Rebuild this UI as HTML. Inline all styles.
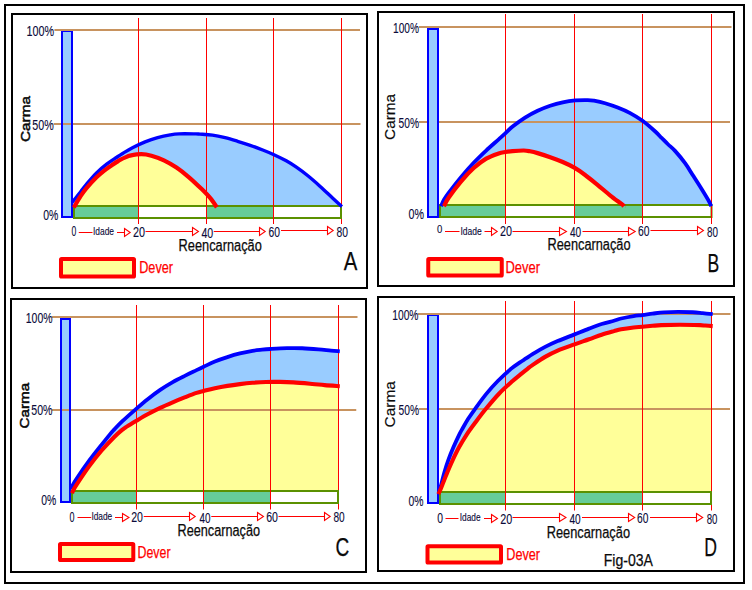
<!DOCTYPE html>
<html><head><meta charset="utf-8"><title>Fig-03A</title>
<style>
html,body{margin:0;padding:0;background:#fff;}
body{width:752px;height:590px;overflow:hidden;font-family:"Liberation Sans",sans-serif;}
svg{display:block;}
</style></head><body>
<svg width="752" height="590" viewBox="0 0 752 590" font-family="Liberation Sans, sans-serif">
<rect x="0" y="0" width="752" height="590" fill="#fff"/>
<rect x="5" y="5" width="739" height="578" fill="#fff" stroke="#000" stroke-width="2"/>
<rect x="12" y="14" width="355" height="274" fill="#fff" stroke="#000" stroke-width="2"/>
<path d="M72.1,202.3 C72.74,201.54 74.46,199.61 75.94,197.76 C77.42,195.91 79.28,193.41 81.0,191.2 C82.72,188.99 83.64,187.56 86.23,184.52 C88.82,181.48 93.14,176.31 96.55,172.93 C99.96,169.55 103.30,166.83 106.68,164.21 C110.06,161.59 114.12,159.05 116.84,157.22 C119.56,155.39 120.41,154.80 123.02,153.23 C125.63,151.66 128.81,149.66 132.49,147.77 C136.17,145.89 140.93,143.60 145.11,141.92 C149.29,140.24 153.41,138.86 157.59,137.68 C161.77,136.50 166.64,135.48 170.21,134.85 C173.78,134.22 174.81,134.03 178.99,133.87 C183.17,133.71 191.80,133.85 195.3,133.89 C198.80,133.93 197.14,133.90 200.01,134.1 C202.88,134.30 208.31,134.50 212.49,135.1 C216.67,135.70 220.91,136.65 225.1,137.68 C229.29,138.71 233.43,139.99 237.61,141.26 C241.79,142.53 246.01,143.86 250.19,145.32 C254.37,146.78 258.83,148.47 262.7,149.99 C266.57,151.51 269.50,152.66 273.42,154.46 C277.35,156.26 282.48,158.71 286.25,160.79 C290.02,162.87 292.47,164.50 296.02,166.96 C299.57,169.42 303.54,172.30 307.57,175.54 C311.60,178.78 315.98,182.63 320.18,186.41 C324.38,190.19 329.14,194.84 332.78,198.21 C336.42,201.58 340.46,205.20 342.0,206.6 L342.0,206 L72.1,206 Z" fill="#99ccff"/>
<path d="M73.8,207.5 C74.19,206.83 75.10,205.21 76.14,203.46 C77.18,201.71 78.35,199.52 80.04,197.02 C81.73,194.52 83.52,191.76 86.27,188.46 C89.02,185.16 93.12,180.52 96.52,177.24 C99.92,173.96 104.13,170.78 106.67,168.79 C109.21,166.79 110.08,166.42 111.78,165.27 C113.48,164.12 115.50,162.77 116.88,161.87 C118.26,160.97 118.52,160.67 120.04,159.88 C121.56,159.09 124.31,157.82 125.98,157.11 C127.65,156.40 127.50,156.10 130.06,155.62 C132.62,155.14 137.78,154.19 141.34,154.21 C144.90,154.23 147.64,154.70 151.4,155.72 C155.16,156.74 159.72,158.35 163.9,160.32 C168.08,162.29 172.29,164.71 176.47,167.54 C180.65,170.37 184.80,173.69 189.0,177.28 C193.20,180.88 198.17,185.67 201.69,189.11 C205.21,192.56 207.60,194.94 210.12,197.95 C212.64,200.96 215.69,205.66 216.8,207.2 L216.8,206 L73.8,206 Z" fill="#ffff99"/>
<rect x="62" y="31" width="10" height="186" fill="#99ccff"/>
<line x1="54.4" y1="30" x2="360" y2="30" stroke="#c8935f" stroke-width="2"/>
<line x1="53.7" y1="124" x2="360.5" y2="124" stroke="#c8935f" stroke-width="2"/>
<rect x="62" y="31" width="10" height="186" fill="none" stroke="#0000ff" stroke-width="2"/>
<line x1="61" y1="30" x2="73" y2="30" stroke="#c8935f" stroke-width="2"/>
<rect x="74" y="206" width="267" height="12" fill="#fff"/>
<rect x="74" y="206" width="64.5" height="12" fill="#66cc99"/>
<rect x="206.5" y="206" width="67.0" height="12" fill="#66cc99"/>
<rect x="74" y="206" width="267" height="12" fill="none" stroke="#5b9100" stroke-width="2"/>
<line x1="138.5" y1="18" x2="138.5" y2="224" stroke="#ff0000" stroke-width="1"/>
<line x1="206.5" y1="18" x2="206.5" y2="224" stroke="#ff0000" stroke-width="1"/>
<line x1="273.5" y1="18" x2="273.5" y2="224" stroke="#ff0000" stroke-width="1"/>
<line x1="341.5" y1="18" x2="341.5" y2="224" stroke="#ff0000" stroke-width="1"/>
<line x1="341" y1="205" x2="341" y2="219" stroke="#5b9100" stroke-width="2"/>
<path d="M72.1,202.3 C72.74,201.54 74.46,199.61 75.94,197.76 C77.42,195.91 79.28,193.41 81.0,191.2 C82.72,188.99 83.64,187.56 86.23,184.52 C88.82,181.48 93.14,176.31 96.55,172.93 C99.96,169.55 103.30,166.83 106.68,164.21 C110.06,161.59 114.12,159.05 116.84,157.22 C119.56,155.39 120.41,154.80 123.02,153.23 C125.63,151.66 128.81,149.66 132.49,147.77 C136.17,145.89 140.93,143.60 145.11,141.92 C149.29,140.24 153.41,138.86 157.59,137.68 C161.77,136.50 166.64,135.48 170.21,134.85 C173.78,134.22 174.81,134.03 178.99,133.87 C183.17,133.71 191.80,133.85 195.3,133.89 C198.80,133.93 197.14,133.90 200.01,134.1 C202.88,134.30 208.31,134.50 212.49,135.1 C216.67,135.70 220.91,136.65 225.1,137.68 C229.29,138.71 233.43,139.99 237.61,141.26 C241.79,142.53 246.01,143.86 250.19,145.32 C254.37,146.78 258.83,148.47 262.7,149.99 C266.57,151.51 269.50,152.66 273.42,154.46 C277.35,156.26 282.48,158.71 286.25,160.79 C290.02,162.87 292.47,164.50 296.02,166.96 C299.57,169.42 303.54,172.30 307.57,175.54 C311.60,178.78 315.98,182.63 320.18,186.41 C324.38,190.19 329.14,194.84 332.78,198.21 C336.42,201.58 340.46,205.20 342.0,206.6" fill="none" stroke="#0000ff" stroke-width="3.4" stroke-linecap="butt" stroke-linejoin="round"/>
<path d="M73.8,207.5 C74.19,206.83 75.10,205.21 76.14,203.46 C77.18,201.71 78.35,199.52 80.04,197.02 C81.73,194.52 83.52,191.76 86.27,188.46 C89.02,185.16 93.12,180.52 96.52,177.24 C99.92,173.96 104.13,170.78 106.67,168.79 C109.21,166.79 110.08,166.42 111.78,165.27 C113.48,164.12 115.50,162.77 116.88,161.87 C118.26,160.97 118.52,160.67 120.04,159.88 C121.56,159.09 124.31,157.82 125.98,157.11 C127.65,156.40 127.50,156.10 130.06,155.62 C132.62,155.14 137.78,154.19 141.34,154.21 C144.90,154.23 147.64,154.70 151.4,155.72 C155.16,156.74 159.72,158.35 163.9,160.32 C168.08,162.29 172.29,164.71 176.47,167.54 C180.65,170.37 184.80,173.69 189.0,177.28 C193.20,180.88 198.17,185.67 201.69,189.11 C205.21,192.56 207.60,194.94 210.12,197.95 C212.64,200.96 215.69,205.66 216.8,207.2" fill="none" stroke="#ff0000" stroke-width="4.2" stroke-linecap="butt" stroke-linejoin="round"/>
<text x="26.6" y="36" font-size="14" fill="#0b0b3a" stroke="#0b0b3a" stroke-width="0.12" font-weight="normal" textLength="27.6" lengthAdjust="spacingAndGlyphs">100%</text>
<text x="32.2" y="130" font-size="14" fill="#0b0b3a" stroke="#0b0b3a" stroke-width="0.12" font-weight="normal" textLength="21.5" lengthAdjust="spacingAndGlyphs">50%</text>
<text x="43.2" y="220" font-size="14" fill="#0b0b3a" stroke="#0b0b3a" stroke-width="0.12" font-weight="normal" textLength="15.1" lengthAdjust="spacingAndGlyphs">0%</text>
<text x="71.5" y="236" font-size="14.5" fill="#0b0b3a" stroke="#0b0b3a" stroke-width="0.12" font-weight="normal" textLength="4.8" lengthAdjust="spacingAndGlyphs">0</text>
<line x1="78.75" y1="232.5" x2="92.5" y2="232.5" stroke="#ff0000" stroke-width="1"/>
<text x="93" y="235.3" font-size="10.8" fill="#0b0b3a" stroke="#0b0b3a" stroke-width="0.12" font-weight="normal" textLength="21" lengthAdjust="spacingAndGlyphs">Idade</text>
<line x1="117" y1="232.5" x2="124.5" y2="232.5" stroke="#ff0000" stroke-width="1"/>
<path d="M124.5,228.5 L130.2,232.5 L124.5,236.5 Z" fill="#fff" stroke="#ff0000" stroke-width="1.1" stroke-linejoin="miter"/>
<text x="133" y="237" font-size="14" fill="#0b0b3a" stroke="#0b0b3a" stroke-width="0.12" font-weight="normal" textLength="12" lengthAdjust="spacingAndGlyphs">20</text>
<line x1="145.5" y1="231.5" x2="192" y2="231.5" stroke="#ff0000" stroke-width="1"/>
<path d="M192.5,227.5 L198.45,231.5 L192.5,235.5 Z" fill="#fff" stroke="#ff0000" stroke-width="1.1" stroke-linejoin="miter"/>
<text x="201.4" y="237.6" font-size="14.5" fill="#0b0b3a" stroke="#0b0b3a" stroke-width="0.12" font-weight="normal" textLength="11.8" lengthAdjust="spacingAndGlyphs">40</text>
<line x1="213.75" y1="231.5" x2="259.25" y2="231.5" stroke="#ff0000" stroke-width="1"/>
<path d="M259.5,227.5 L265.2,231.5 L259.5,235.5 Z" fill="#fff" stroke="#ff0000" stroke-width="1.1" stroke-linejoin="miter"/>
<text x="268.5" y="236.75" font-size="14" fill="#0b0b3a" stroke="#0b0b3a" stroke-width="0.12" font-weight="normal" textLength="11.5" lengthAdjust="spacingAndGlyphs">60</text>
<line x1="281" y1="230.5" x2="327.5" y2="230.5" stroke="#ff0000" stroke-width="1"/>
<path d="M327.5,226.5 L333.2,230.5 L327.5,234.5 Z" fill="#fff" stroke="#ff0000" stroke-width="1.1" stroke-linejoin="miter"/>
<text x="336.5" y="237" font-size="14" fill="#0b0b3a" stroke="#0b0b3a" stroke-width="0.12" font-weight="normal" textLength="11.5" lengthAdjust="spacingAndGlyphs">80</text>
<text x="178.6" y="250.6" font-size="16" fill="#0a0a0a" stroke="#0a0a0a" stroke-width="0.25" font-weight="normal" textLength="83.15" lengthAdjust="spacingAndGlyphs">Reencarnação</text>
<rect x="61" y="259" width="73" height="17.5" rx="0.6" fill="#ffff99" stroke="#ff0000" stroke-width="4"/>
<text x="139.2" y="273" font-size="16" fill="#ff0000" stroke="#ff0000" stroke-width="0.25" font-weight="normal" textLength="33.8" lengthAdjust="spacingAndGlyphs">Dever</text>
<text x="343.7" y="270" font-size="26.5" fill="#0a0a0a" stroke="#0a0a0a" stroke-width="0.25" font-weight="normal" textLength="13.6" lengthAdjust="spacingAndGlyphs">A</text>
<text transform="translate(30.2,142) rotate(-90)" x="0" y="0" font-size="13.5" fill="#0a0a0a" stroke="#0a0a0a" stroke-width="0.5" font-weight="normal" textLength="46" lengthAdjust="spacingAndGlyphs">Carma</text>
<rect x="378" y="12" width="356" height="274" fill="#fff" stroke="#000" stroke-width="2"/>
<path d="M441.0,206.2 C441.52,205.09 442.85,201.78 444.12,199.56 C445.39,197.34 445.81,196.63 448.63,192.89 C451.45,189.15 456.84,182.14 461.02,177.12 C465.20,172.10 469.50,167.21 473.69,162.78 C477.88,158.35 481.96,154.45 486.13,150.54 C490.30,146.63 495.51,142.16 498.7,139.3 C501.89,136.44 502.97,135.49 505.29,133.37 C507.61,131.25 509.31,129.22 512.6,126.6 C515.89,123.97 520.89,120.26 525.06,117.62 C529.23,114.98 533.43,112.74 537.62,110.76 C541.81,108.78 546.00,107.17 550.18,105.76 C554.36,104.35 558.53,103.21 562.71,102.32 C566.89,101.42 571.11,100.77 575.29,100.39 C579.47,100.01 584.67,100.00 587.79,100.06 C590.91,100.12 591.12,100.18 594.0,100.72 C596.88,101.26 601.14,102.14 605.08,103.28 C609.02,104.42 613.48,105.93 617.66,107.57 C621.84,109.21 626.01,110.91 630.15,113.12 C634.29,115.33 638.33,117.78 642.52,120.84 C646.71,123.91 652.08,128.66 655.27,131.51 C658.46,134.36 659.53,135.84 661.64,137.96 C663.75,140.08 665.72,142.10 667.95,144.25 C670.19,146.40 672.20,147.73 675.05,150.88 C677.90,154.03 682.07,159.07 685.07,163.17 C688.07,167.27 690.37,171.32 693.05,175.5 C695.73,179.68 698.54,184.03 701.15,188.24 C703.75,192.45 707.00,197.77 708.68,200.76 C710.36,203.75 710.78,205.29 711.2,206.2 L711.2,205 L441.0,205 Z" fill="#99ccff"/>
<path d="M444.0,206.2 C444.79,204.76 445.92,201.65 448.74,197.54 C451.56,193.43 456.75,186.44 460.91,181.52 C465.07,176.60 469.50,171.82 473.72,168.01 C477.94,164.20 482.07,161.08 486.22,158.65 C490.38,156.22 495.45,154.54 498.65,153.43 C501.84,152.32 503.08,152.40 505.39,152.01 C507.70,151.62 509.43,151.34 512.5,151.09 C515.57,150.84 520.88,150.49 523.8,150.52 C526.72,150.56 527.70,150.86 530.0,151.3 C532.30,151.74 534.22,152.16 537.59,153.14 C540.96,154.12 546.02,155.71 550.21,157.19 C554.40,158.67 558.72,160.28 562.74,162.03 C566.76,163.78 570.58,165.51 574.31,167.66 C578.04,169.81 581.26,172.08 585.13,174.94 C589.00,177.80 593.30,181.39 597.5,184.82 C601.70,188.25 606.18,192.21 610.34,195.52 C614.50,198.84 620.24,202.90 622.48,204.71 C624.72,206.52 623.58,206.12 623.8,206.4 L623.8,205 L444.0,205 Z" fill="#ffff99"/>
<rect x="428" y="29" width="10" height="188" fill="#99ccff"/>
<line x1="419" y1="27" x2="731.5" y2="27" stroke="#c8935f" stroke-width="2"/>
<line x1="419" y1="122" x2="730" y2="122" stroke="#c8935f" stroke-width="2"/>
<rect x="428" y="29" width="10" height="188" fill="#99ccff"/>
<rect x="428" y="29" width="10" height="188" fill="none" stroke="#0000ff" stroke-width="2"/>
<line x1="427" y1="27" x2="439" y2="27" stroke="#c8935f" stroke-width="2"/>
<rect x="440" y="205" width="271.5" height="12" fill="#fff"/>
<rect x="440" y="205" width="65.5" height="12" fill="#66cc99"/>
<rect x="574.5" y="205" width="68.0" height="12" fill="#66cc99"/>
<rect x="440" y="205" width="271.5" height="12" fill="none" stroke="#5b9100" stroke-width="2"/>
<line x1="505.5" y1="14" x2="505.5" y2="224" stroke="#ff0000" stroke-width="1"/>
<line x1="574.5" y1="14" x2="574.5" y2="224" stroke="#ff0000" stroke-width="1"/>
<line x1="642.5" y1="14" x2="642.5" y2="224" stroke="#ff0000" stroke-width="1"/>
<line x1="711.5" y1="14" x2="711.5" y2="224" stroke="#ff0000" stroke-width="1"/>
<path d="M441.0,206.2 C441.52,205.09 442.85,201.78 444.12,199.56 C445.39,197.34 445.81,196.63 448.63,192.89 C451.45,189.15 456.84,182.14 461.02,177.12 C465.20,172.10 469.50,167.21 473.69,162.78 C477.88,158.35 481.96,154.45 486.13,150.54 C490.30,146.63 495.51,142.16 498.7,139.3 C501.89,136.44 502.97,135.49 505.29,133.37 C507.61,131.25 509.31,129.22 512.6,126.6 C515.89,123.97 520.89,120.26 525.06,117.62 C529.23,114.98 533.43,112.74 537.62,110.76 C541.81,108.78 546.00,107.17 550.18,105.76 C554.36,104.35 558.53,103.21 562.71,102.32 C566.89,101.42 571.11,100.77 575.29,100.39 C579.47,100.01 584.67,100.00 587.79,100.06 C590.91,100.12 591.12,100.18 594.0,100.72 C596.88,101.26 601.14,102.14 605.08,103.28 C609.02,104.42 613.48,105.93 617.66,107.57 C621.84,109.21 626.01,110.91 630.15,113.12 C634.29,115.33 638.33,117.78 642.52,120.84 C646.71,123.91 652.08,128.66 655.27,131.51 C658.46,134.36 659.53,135.84 661.64,137.96 C663.75,140.08 665.72,142.10 667.95,144.25 C670.19,146.40 672.20,147.73 675.05,150.88 C677.90,154.03 682.07,159.07 685.07,163.17 C688.07,167.27 690.37,171.32 693.05,175.5 C695.73,179.68 698.54,184.03 701.15,188.24 C703.75,192.45 707.00,197.77 708.68,200.76 C710.36,203.75 710.78,205.29 711.2,206.2" fill="none" stroke="#0000ff" stroke-width="3.8" stroke-linecap="butt" stroke-linejoin="round"/>
<path d="M444.0,206.2 C444.79,204.76 445.92,201.65 448.74,197.54 C451.56,193.43 456.75,186.44 460.91,181.52 C465.07,176.60 469.50,171.82 473.72,168.01 C477.94,164.20 482.07,161.08 486.22,158.65 C490.38,156.22 495.45,154.54 498.65,153.43 C501.84,152.32 503.08,152.40 505.39,152.01 C507.70,151.62 509.43,151.34 512.5,151.09 C515.57,150.84 520.88,150.49 523.8,150.52 C526.72,150.56 527.70,150.86 530.0,151.3 C532.30,151.74 534.22,152.16 537.59,153.14 C540.96,154.12 546.02,155.71 550.21,157.19 C554.40,158.67 558.72,160.28 562.74,162.03 C566.76,163.78 570.58,165.51 574.31,167.66 C578.04,169.81 581.26,172.08 585.13,174.94 C589.00,177.80 593.30,181.39 597.5,184.82 C601.70,188.25 606.18,192.21 610.34,195.52 C614.50,198.84 620.24,202.90 622.48,204.71 C624.72,206.52 623.58,206.12 623.8,206.4" fill="none" stroke="#ff0000" stroke-width="4.2" stroke-linecap="butt" stroke-linejoin="round"/>
<text x="393" y="33" font-size="14" fill="#0b0b3a" stroke="#0b0b3a" stroke-width="0.12" font-weight="normal" textLength="26" lengthAdjust="spacingAndGlyphs">100%</text>
<text x="398.5" y="128" font-size="14" fill="#0b0b3a" stroke="#0b0b3a" stroke-width="0.12" font-weight="normal" textLength="20.5" lengthAdjust="spacingAndGlyphs">50%</text>
<text x="408.5" y="219" font-size="14" fill="#0b0b3a" stroke="#0b0b3a" stroke-width="0.12" font-weight="normal" textLength="15.5" lengthAdjust="spacingAndGlyphs">0%</text>
<text x="437" y="233.2" font-size="11.5" fill="#0b0b3a" stroke="#0b0b3a" stroke-width="0.12" font-weight="normal" textLength="5.3" lengthAdjust="spacingAndGlyphs">0</text>
<line x1="445" y1="231.5" x2="459.5" y2="231.5" stroke="#ff0000" stroke-width="1"/>
<text x="460.5" y="235" font-size="10" fill="#0b0b3a" stroke="#0b0b3a" stroke-width="0.12" font-weight="normal" textLength="21.25" lengthAdjust="spacingAndGlyphs">Idade</text>
<line x1="484.5" y1="231.5" x2="491.25" y2="231.5" stroke="#ff0000" stroke-width="1"/>
<path d="M491.5,227.5 L497.2,231.5 L491.5,235.5 Z" fill="#fff" stroke="#ff0000" stroke-width="1.1" stroke-linejoin="miter"/>
<text x="500" y="235.5" font-size="14" fill="#0b0b3a" stroke="#0b0b3a" stroke-width="0.12" font-weight="normal" textLength="12" lengthAdjust="spacingAndGlyphs">20</text>
<line x1="512.5" y1="231.5" x2="559.5" y2="231.5" stroke="#ff0000" stroke-width="1"/>
<path d="M559.5,227.5 L566.45,231.5 L559.5,235.5 Z" fill="#fff" stroke="#ff0000" stroke-width="1.1" stroke-linejoin="miter"/>
<text x="570" y="236.5" font-size="14" fill="#0b0b3a" stroke="#0b0b3a" stroke-width="0.12" font-weight="normal" textLength="11.25" lengthAdjust="spacingAndGlyphs">40</text>
<line x1="582.5" y1="231.5" x2="628.75" y2="231.5" stroke="#ff0000" stroke-width="1"/>
<path d="M628.5,227.5 L635.2,231.5 L628.5,235.5 Z" fill="#fff" stroke="#ff0000" stroke-width="1.1" stroke-linejoin="miter"/>
<text x="638" y="235.5" font-size="14" fill="#0b0b3a" stroke="#0b0b3a" stroke-width="0.12" font-weight="normal" textLength="11.5" lengthAdjust="spacingAndGlyphs">60</text>
<line x1="650.5" y1="230.5" x2="697" y2="230.5" stroke="#ff0000" stroke-width="1"/>
<path d="M697.5,226.5 L703.45,230.5 L697.5,234.5 Z" fill="#fff" stroke="#ff0000" stroke-width="1.1" stroke-linejoin="miter"/>
<text x="707" y="236.75" font-size="14" fill="#0b0b3a" stroke="#0b0b3a" stroke-width="0.12" font-weight="normal" textLength="11" lengthAdjust="spacingAndGlyphs">80</text>
<text x="547.5" y="250" font-size="16" fill="#0a0a0a" stroke="#0a0a0a" stroke-width="0.25" font-weight="normal" textLength="83.0" lengthAdjust="spacingAndGlyphs">Reencarnação</text>
<rect x="428.25" y="259" width="73.5" height="16.5" rx="0.6" fill="#ffff99" stroke="#ff0000" stroke-width="4"/>
<text x="505.5" y="273" font-size="16" fill="#ff0000" stroke="#ff0000" stroke-width="0.25" font-weight="normal" textLength="34.5" lengthAdjust="spacingAndGlyphs">Dever</text>
<text x="707.5" y="271.75" font-size="26.5" fill="#0a0a0a" stroke="#0a0a0a" stroke-width="0.25" font-weight="normal" textLength="11.75" lengthAdjust="spacingAndGlyphs">B</text>
<text transform="translate(395.3,139.9) rotate(-90)" x="0" y="0" font-size="13.8" fill="#0a0a0a" stroke="#0a0a0a" stroke-width="0.15" font-weight="normal" textLength="46" lengthAdjust="spacingAndGlyphs">Carma</text>
<rect x="11" y="299" width="355" height="273" fill="#fff" stroke="#000" stroke-width="2"/>
<clipPath id="c11_299"><rect x="0" y="0" width="338" height="590"/></clipPath>
<path d="M70.8,489.0 C70.93,488.68 70.64,488.75 71.6,487.05 C72.56,485.35 73.62,483.20 76.55,478.82 C79.48,474.44 85.00,466.40 89.16,460.75 C93.32,455.10 97.99,449.36 101.49,444.92 C104.99,440.48 108.03,436.67 110.14,434.12 C112.25,431.57 112.13,431.74 114.13,429.62 C116.13,427.50 118.39,424.94 122.12,421.43 C125.85,417.92 132.23,412.28 136.49,408.57 C140.75,404.86 143.72,402.30 147.67,399.18 C151.62,396.06 156.00,392.71 160.18,389.86 C164.36,387.01 168.56,384.46 172.74,382.08 C176.92,379.70 181.28,377.59 185.24,375.6 C189.21,373.61 193.47,371.64 196.53,370.16 C199.59,368.68 200.57,368.19 203.63,366.74 C206.69,365.29 210.92,363.08 214.87,361.47 C218.82,359.86 223.18,358.40 227.35,357.07 C231.52,355.74 235.73,354.50 239.92,353.46 C244.11,352.42 248.82,351.45 252.5,350.82 C256.18,350.19 258.98,350.00 262.0,349.69 C265.02,349.38 266.42,349.24 270.6,348.99 C274.78,348.74 281.83,348.31 287.1,348.18 C292.37,348.05 296.97,348.04 302.2,348.23 C307.43,348.42 313.70,348.91 318.5,349.3 C323.30,349.69 327.46,350.27 331.01,350.6 C334.56,350.93 338.34,351.18 339.8,351.3 L339.8,491 L70.8,491 Z" fill="#99ccff" clip-path="url(#c11_299)"/>
<path d="M72.1,493.3 C72.24,492.91 72.18,492.39 72.93,490.95 C73.68,489.51 73.92,488.75 76.61,484.65 C79.30,480.55 84.90,472.05 89.07,466.36 C93.24,460.67 97.42,455.42 101.62,450.52 C105.82,445.62 110.77,440.45 114.25,436.97 C117.73,433.49 120.44,431.37 122.52,429.64 C124.60,427.91 124.44,428.09 126.76,426.6 C129.08,425.11 132.97,422.77 136.45,420.71 C139.93,418.65 143.67,416.40 147.63,414.26 C151.59,412.12 156.01,409.87 160.19,407.88 C164.37,405.89 168.53,404.11 172.71,402.33 C176.89,400.55 181.28,398.78 185.26,397.21 C189.23,395.64 193.49,393.94 196.56,392.9 C199.63,391.86 200.63,391.74 203.67,390.97 C206.71,390.20 210.87,389.11 214.82,388.26 C218.77,387.41 223.21,386.57 227.39,385.88 C231.57,385.19 235.72,384.63 239.9,384.11 C244.09,383.59 248.15,383.14 252.5,382.78 C256.85,382.42 261.42,382.09 266.0,381.94 C270.58,381.79 275.43,381.81 280.0,381.89 C284.57,381.97 288.03,382.07 293.4,382.41 C298.77,382.75 306.98,383.48 312.2,383.93 C317.42,384.38 320.11,384.74 324.71,385.12 C329.31,385.50 337.29,386.02 339.8,386.2 L339.8,491 L72.1,491 Z" fill="#ffff99" clip-path="url(#c11_299)"/>
<rect x="61" y="319" width="9" height="183" fill="#99ccff"/>
<line x1="52" y1="317" x2="357.5" y2="317" stroke="#c8935f" stroke-width="2"/>
<line x1="52" y1="410" x2="356.25" y2="410" stroke="#c8935f" stroke-width="2"/>
<rect x="61" y="319" width="9" height="183" fill="none" stroke="#0000ff" stroke-width="2"/>
<line x1="60" y1="317" x2="71" y2="317" stroke="#c8935f" stroke-width="2"/>
<rect x="72" y="491" width="266" height="12" fill="#fff"/>
<rect x="72" y="491" width="64.5" height="12" fill="#66cc99"/>
<rect x="203.5" y="491" width="67.0" height="12" fill="#66cc99"/>
<rect x="72" y="491" width="266" height="12" fill="none" stroke="#5b9100" stroke-width="2"/>
<line x1="136.5" y1="305" x2="136.5" y2="509.5" stroke="#ff0000" stroke-width="1"/>
<line x1="203.5" y1="305" x2="203.5" y2="509.5" stroke="#ff0000" stroke-width="1"/>
<line x1="270.5" y1="305" x2="270.5" y2="509.5" stroke="#ff0000" stroke-width="1"/>
<line x1="338.5" y1="305" x2="338.5" y2="509.5" stroke="#ff0000" stroke-width="1"/>
<line x1="338" y1="490" x2="338" y2="504" stroke="#5b9100" stroke-width="2"/>
<path d="M70.8,489.0 C70.93,488.68 70.64,488.75 71.6,487.05 C72.56,485.35 73.62,483.20 76.55,478.82 C79.48,474.44 85.00,466.40 89.16,460.75 C93.32,455.10 97.99,449.36 101.49,444.92 C104.99,440.48 108.03,436.67 110.14,434.12 C112.25,431.57 112.13,431.74 114.13,429.62 C116.13,427.50 118.39,424.94 122.12,421.43 C125.85,417.92 132.23,412.28 136.49,408.57 C140.75,404.86 143.72,402.30 147.67,399.18 C151.62,396.06 156.00,392.71 160.18,389.86 C164.36,387.01 168.56,384.46 172.74,382.08 C176.92,379.70 181.28,377.59 185.24,375.6 C189.21,373.61 193.47,371.64 196.53,370.16 C199.59,368.68 200.57,368.19 203.63,366.74 C206.69,365.29 210.92,363.08 214.87,361.47 C218.82,359.86 223.18,358.40 227.35,357.07 C231.52,355.74 235.73,354.50 239.92,353.46 C244.11,352.42 248.82,351.45 252.5,350.82 C256.18,350.19 258.98,350.00 262.0,349.69 C265.02,349.38 266.42,349.24 270.6,348.99 C274.78,348.74 281.83,348.31 287.1,348.18 C292.37,348.05 296.97,348.04 302.2,348.23 C307.43,348.42 313.70,348.91 318.5,349.3 C323.30,349.69 327.46,350.27 331.01,350.6 C334.56,350.93 338.34,351.18 339.8,351.3" fill="none" stroke="#0000ff" stroke-width="3.8" stroke-linecap="butt" stroke-linejoin="round"/>
<path d="M72.1,493.3 C72.24,492.91 72.18,492.39 72.93,490.95 C73.68,489.51 73.92,488.75 76.61,484.65 C79.30,480.55 84.90,472.05 89.07,466.36 C93.24,460.67 97.42,455.42 101.62,450.52 C105.82,445.62 110.77,440.45 114.25,436.97 C117.73,433.49 120.44,431.37 122.52,429.64 C124.60,427.91 124.44,428.09 126.76,426.6 C129.08,425.11 132.97,422.77 136.45,420.71 C139.93,418.65 143.67,416.40 147.63,414.26 C151.59,412.12 156.01,409.87 160.19,407.88 C164.37,405.89 168.53,404.11 172.71,402.33 C176.89,400.55 181.28,398.78 185.26,397.21 C189.23,395.64 193.49,393.94 196.56,392.9 C199.63,391.86 200.63,391.74 203.67,390.97 C206.71,390.20 210.87,389.11 214.82,388.26 C218.77,387.41 223.21,386.57 227.39,385.88 C231.57,385.19 235.72,384.63 239.9,384.11 C244.09,383.59 248.15,383.14 252.5,382.78 C256.85,382.42 261.42,382.09 266.0,381.94 C270.58,381.79 275.43,381.81 280.0,381.89 C284.57,381.97 288.03,382.07 293.4,382.41 C298.77,382.75 306.98,383.48 312.2,383.93 C317.42,384.38 320.11,384.74 324.71,385.12 C329.31,385.50 337.29,386.02 339.8,386.2" fill="none" stroke="#ff0000" stroke-width="4.1" stroke-linecap="butt" stroke-linejoin="round"/>
<text x="25.75" y="323" font-size="14" fill="#0b0b3a" stroke="#0b0b3a" stroke-width="0.12" font-weight="normal" textLength="26.75" lengthAdjust="spacingAndGlyphs">100%</text>
<text x="31.25" y="415" font-size="14" fill="#0b0b3a" stroke="#0b0b3a" stroke-width="0.12" font-weight="normal" textLength="21.25" lengthAdjust="spacingAndGlyphs">50%</text>
<text x="41.25" y="505" font-size="14" fill="#0b0b3a" stroke="#0b0b3a" stroke-width="0.12" font-weight="normal" textLength="15.0" lengthAdjust="spacingAndGlyphs">0%</text>
<text x="69.5" y="521.5" font-size="14" fill="#0b0b3a" stroke="#0b0b3a" stroke-width="0.12" font-weight="normal" textLength="5.0" lengthAdjust="spacingAndGlyphs">0</text>
<line x1="77.5" y1="517.5" x2="91.25" y2="517.5" stroke="#ff0000" stroke-width="1"/>
<text x="91.4" y="520" font-size="10.3" fill="#0b0b3a" stroke="#0b0b3a" stroke-width="0.12" font-weight="normal" textLength="20.8" lengthAdjust="spacingAndGlyphs">Idade</text>
<line x1="115" y1="517.5" x2="122.5" y2="517.5" stroke="#ff0000" stroke-width="1"/>
<path d="M122.5,513.5 L128.95,517.5 L122.5,521.5 Z" fill="#fff" stroke="#ff0000" stroke-width="1.1" stroke-linejoin="miter"/>
<text x="131.25" y="522" font-size="14" fill="#0b0b3a" stroke="#0b0b3a" stroke-width="0.12" font-weight="normal" textLength="11.75" lengthAdjust="spacingAndGlyphs">20</text>
<line x1="143.75" y1="516.5" x2="189.25" y2="516.5" stroke="#ff0000" stroke-width="1"/>
<path d="M189.5,512.5 L195.2,516.5 L189.5,520.5 Z" fill="#fff" stroke="#ff0000" stroke-width="1.1" stroke-linejoin="miter"/>
<text x="199.5" y="523" font-size="14" fill="#0b0b3a" stroke="#0b0b3a" stroke-width="0.12" font-weight="normal" textLength="11.0" lengthAdjust="spacingAndGlyphs">40</text>
<line x1="211.25" y1="516.5" x2="257" y2="516.5" stroke="#ff0000" stroke-width="1"/>
<path d="M257.5,512.5 L263.45,516.5 L257.5,520.5 Z" fill="#fff" stroke="#ff0000" stroke-width="1.1" stroke-linejoin="miter"/>
<text x="266.25" y="522" font-size="14" fill="#0b0b3a" stroke="#0b0b3a" stroke-width="0.12" font-weight="normal" textLength="11.75" lengthAdjust="spacingAndGlyphs">60</text>
<line x1="278.5" y1="516.5" x2="324.25" y2="516.5" stroke="#ff0000" stroke-width="1"/>
<path d="M324.5,512.5 L330.2,516.5 L324.5,520.5 Z" fill="#fff" stroke="#ff0000" stroke-width="1.1" stroke-linejoin="miter"/>
<text x="333.5" y="522" font-size="14" fill="#0b0b3a" stroke="#0b0b3a" stroke-width="0.12" font-weight="normal" textLength="11.25" lengthAdjust="spacingAndGlyphs">80</text>
<text x="177.5" y="536" font-size="16" fill="#0a0a0a" stroke="#0a0a0a" stroke-width="0.25" font-weight="normal" textLength="82.5" lengthAdjust="spacingAndGlyphs">Reencarnação</text>
<rect x="60" y="544" width="73.3" height="16" rx="0.6" fill="#ffff99" stroke="#ff0000" stroke-width="4"/>
<text x="137.5" y="558" font-size="16" fill="#ff0000" stroke="#ff0000" stroke-width="0.25" font-weight="normal" textLength="33.0" lengthAdjust="spacingAndGlyphs">Dever</text>
<text x="335.5" y="555.75" font-size="26.5" fill="#0a0a0a" stroke="#0a0a0a" stroke-width="0.25" font-weight="normal" textLength="13.75" lengthAdjust="spacingAndGlyphs">C</text>
<text transform="translate(28.8,428.4) rotate(-90)" x="0" y="0" font-size="13.5" fill="#0a0a0a" stroke="#0a0a0a" stroke-width="0.5" font-weight="normal" textLength="45.5" lengthAdjust="spacingAndGlyphs">Carma</text>
<rect x="378" y="297" width="356" height="274" fill="#fff" stroke="#000" stroke-width="2"/>
<clipPath id="c378_297"><rect x="0" y="0" width="711" height="590"/></clipPath>
<path d="M439.5,490.0 C439.78,489.11 440.34,487.63 441.16,484.66 C441.98,481.69 443.18,476.36 444.4,472.19 C445.62,468.02 446.94,463.81 448.46,459.62 C449.98,455.43 451.70,451.24 453.5,447.06 C455.30,442.88 457.75,437.63 459.24,434.57 C460.73,431.51 460.95,431.32 462.44,428.7 C463.93,426.07 466.07,422.14 468.19,418.82 C470.31,415.50 472.09,412.96 475.14,408.77 C478.19,404.58 482.72,398.29 486.5,393.67 C490.28,389.05 493.70,385.20 497.82,381.03 C501.94,376.86 507.51,371.76 511.2,368.64 C514.88,365.52 517.47,364.02 519.93,362.32 C522.39,360.62 523.88,359.81 525.98,358.46 C528.08,357.10 529.31,356.11 532.5,354.19 C535.69,352.27 540.93,349.10 545.12,346.92 C549.31,344.74 552.73,343.18 557.63,341.09 C562.53,339.00 569.32,336.46 574.55,334.38 C579.78,332.30 584.49,330.34 589.01,328.62 C593.53,326.90 597.50,325.38 601.65,324.06 C605.80,322.74 610.66,321.63 613.91,320.71 C617.16,319.79 617.89,319.29 621.17,318.52 C624.45,317.75 630.05,316.65 633.59,316.08 C637.13,315.50 639.25,315.47 642.4,315.07 C645.55,314.67 648.92,314.12 652.49,313.66 C656.06,313.20 659.57,312.59 663.82,312.29 C668.07,311.99 673.19,311.85 678.0,311.84 C682.81,311.83 688.57,312.02 692.69,312.24 C696.81,312.46 699.38,312.83 702.71,313.16 C706.05,313.49 711.04,314.03 712.7,314.2 L712.7,492 L439.5,492 Z" fill="#99ccff" clip-path="url(#c378_297)"/>
<path d="M438.3,494.2 C438.56,493.66 439.16,492.56 439.84,490.97 C440.52,489.38 441.10,487.81 442.36,484.68 C443.62,481.55 445.62,476.37 447.38,472.19 C449.14,468.01 450.94,463.79 452.91,459.6 C454.88,455.42 456.88,451.25 459.18,447.08 C461.48,442.91 463.92,438.75 466.68,434.56 C469.44,430.38 472.55,426.26 475.76,421.97 C478.97,417.68 482.06,413.53 485.93,408.82 C489.81,404.11 494.56,398.34 499.01,393.71 C503.46,389.08 509.11,384.16 512.61,381.02 C516.11,377.88 517.46,376.97 519.99,374.89 C522.52,372.81 525.74,370.16 527.82,368.53 C529.90,366.89 529.61,367.02 532.49,365.08 C535.37,363.13 540.91,359.28 545.1,356.86 C549.29,354.44 552.74,352.63 557.65,350.54 C562.56,348.45 569.34,346.19 574.56,344.31 C579.78,342.44 584.44,340.89 588.96,339.29 C593.48,337.69 597.49,336.05 601.66,334.69 C605.83,333.33 610.72,332.03 613.96,331.14 C617.21,330.25 617.86,329.94 621.13,329.33 C624.40,328.72 630.05,327.93 633.59,327.51 C637.13,327.09 639.24,327.11 642.39,326.83 C645.54,326.55 649.36,326.11 652.5,325.83 C655.64,325.55 656.63,325.34 661.21,325.16 C665.79,324.99 673.50,324.78 680.0,324.78 C686.50,324.78 695.99,325.04 700.19,325.17 C704.39,325.30 703.12,325.41 705.21,325.57 C707.30,325.73 711.45,326.01 712.7,326.1 L712.7,492 L438.3,492 Z" fill="#ffff99" clip-path="url(#c378_297)"/>
<rect x="428" y="315" width="10" height="188" fill="#99ccff"/>
<line x1="418" y1="314" x2="730.5" y2="314" stroke="#c8935f" stroke-width="2"/>
<line x1="419" y1="409" x2="730" y2="409" stroke="#c8935f" stroke-width="2"/>
<rect x="428" y="315" width="10" height="188" fill="#99ccff"/>
<rect x="428" y="315" width="10" height="188" fill="none" stroke="#0000ff" stroke-width="2"/>
<line x1="427" y1="314" x2="439" y2="314" stroke="#c8935f" stroke-width="2"/>
<rect x="440" y="492" width="271" height="12" fill="#fff"/>
<rect x="440" y="492" width="65.5" height="12" fill="#66cc99"/>
<rect x="574.5" y="492" width="68.0" height="12" fill="#66cc99"/>
<rect x="440" y="492" width="271" height="12" fill="none" stroke="#5b9100" stroke-width="2"/>
<line x1="505.5" y1="301" x2="505.5" y2="510.5" stroke="#ff0000" stroke-width="1"/>
<line x1="574.5" y1="301" x2="574.5" y2="510.5" stroke="#ff0000" stroke-width="1"/>
<line x1="642.5" y1="301" x2="642.5" y2="510.5" stroke="#ff0000" stroke-width="1"/>
<line x1="711.5" y1="301" x2="711.5" y2="510.5" stroke="#ff0000" stroke-width="1"/>
<line x1="711" y1="491" x2="711" y2="505" stroke="#5b9100" stroke-width="2"/>
<path d="M439.5,490.0 C439.78,489.11 440.34,487.63 441.16,484.66 C441.98,481.69 443.18,476.36 444.4,472.19 C445.62,468.02 446.94,463.81 448.46,459.62 C449.98,455.43 451.70,451.24 453.5,447.06 C455.30,442.88 457.75,437.63 459.24,434.57 C460.73,431.51 460.95,431.32 462.44,428.7 C463.93,426.07 466.07,422.14 468.19,418.82 C470.31,415.50 472.09,412.96 475.14,408.77 C478.19,404.58 482.72,398.29 486.5,393.67 C490.28,389.05 493.70,385.20 497.82,381.03 C501.94,376.86 507.51,371.76 511.2,368.64 C514.88,365.52 517.47,364.02 519.93,362.32 C522.39,360.62 523.88,359.81 525.98,358.46 C528.08,357.10 529.31,356.11 532.5,354.19 C535.69,352.27 540.93,349.10 545.12,346.92 C549.31,344.74 552.73,343.18 557.63,341.09 C562.53,339.00 569.32,336.46 574.55,334.38 C579.78,332.30 584.49,330.34 589.01,328.62 C593.53,326.90 597.50,325.38 601.65,324.06 C605.80,322.74 610.66,321.63 613.91,320.71 C617.16,319.79 617.89,319.29 621.17,318.52 C624.45,317.75 630.05,316.65 633.59,316.08 C637.13,315.50 639.25,315.47 642.4,315.07 C645.55,314.67 648.92,314.12 652.49,313.66 C656.06,313.20 659.57,312.59 663.82,312.29 C668.07,311.99 673.19,311.85 678.0,311.84 C682.81,311.83 688.57,312.02 692.69,312.24 C696.81,312.46 699.38,312.83 702.71,313.16 C706.05,313.49 711.04,314.03 712.7,314.2" fill="none" stroke="#0000ff" stroke-width="3.8" stroke-linecap="butt" stroke-linejoin="round"/>
<path d="M438.3,494.2 C438.56,493.66 439.16,492.56 439.84,490.97 C440.52,489.38 441.10,487.81 442.36,484.68 C443.62,481.55 445.62,476.37 447.38,472.19 C449.14,468.01 450.94,463.79 452.91,459.6 C454.88,455.42 456.88,451.25 459.18,447.08 C461.48,442.91 463.92,438.75 466.68,434.56 C469.44,430.38 472.55,426.26 475.76,421.97 C478.97,417.68 482.06,413.53 485.93,408.82 C489.81,404.11 494.56,398.34 499.01,393.71 C503.46,389.08 509.11,384.16 512.61,381.02 C516.11,377.88 517.46,376.97 519.99,374.89 C522.52,372.81 525.74,370.16 527.82,368.53 C529.90,366.89 529.61,367.02 532.49,365.08 C535.37,363.13 540.91,359.28 545.1,356.86 C549.29,354.44 552.74,352.63 557.65,350.54 C562.56,348.45 569.34,346.19 574.56,344.31 C579.78,342.44 584.44,340.89 588.96,339.29 C593.48,337.69 597.49,336.05 601.66,334.69 C605.83,333.33 610.72,332.03 613.96,331.14 C617.21,330.25 617.86,329.94 621.13,329.33 C624.40,328.72 630.05,327.93 633.59,327.51 C637.13,327.09 639.24,327.11 642.39,326.83 C645.54,326.55 649.36,326.11 652.5,325.83 C655.64,325.55 656.63,325.34 661.21,325.16 C665.79,324.99 673.50,324.78 680.0,324.78 C686.50,324.78 695.99,325.04 700.19,325.17 C704.39,325.30 703.12,325.41 705.21,325.57 C707.30,325.73 711.45,326.01 712.7,326.1" fill="none" stroke="#ff0000" stroke-width="4.1" stroke-linecap="butt" stroke-linejoin="round"/>
<text x="392.25" y="320.25" font-size="14" fill="#0b0b3a" stroke="#0b0b3a" stroke-width="0.12" font-weight="normal" textLength="26.25" lengthAdjust="spacingAndGlyphs">100%</text>
<text x="398.5" y="415" font-size="14" fill="#0b0b3a" stroke="#0b0b3a" stroke-width="0.12" font-weight="normal" textLength="20.5" lengthAdjust="spacingAndGlyphs">50%</text>
<text x="408.5" y="505.5" font-size="14" fill="#0b0b3a" stroke="#0b0b3a" stroke-width="0.12" font-weight="normal" textLength="15.0" lengthAdjust="spacingAndGlyphs">0%</text>
<text x="437.25" y="523" font-size="14" fill="#0b0b3a" stroke="#0b0b3a" stroke-width="0.12" font-weight="normal" textLength="5.75" lengthAdjust="spacingAndGlyphs">0</text>
<line x1="445.5" y1="518.5" x2="458.5" y2="518.5" stroke="#ff0000" stroke-width="1"/>
<text x="459.75" y="521.25" font-size="10" fill="#0b0b3a" stroke="#0b0b3a" stroke-width="0.12" font-weight="normal" textLength="20.75" lengthAdjust="spacingAndGlyphs">Idade</text>
<line x1="484" y1="518.5" x2="491" y2="518.5" stroke="#ff0000" stroke-width="1"/>
<path d="M491.5,514.5 L497.45,518.5 L491.5,522.5 Z" fill="#fff" stroke="#ff0000" stroke-width="1.1" stroke-linejoin="miter"/>
<text x="500.25" y="523.75" font-size="14" fill="#0b0b3a" stroke="#0b0b3a" stroke-width="0.12" font-weight="normal" textLength="12.0" lengthAdjust="spacingAndGlyphs">20</text>
<line x1="512.5" y1="517.5" x2="559.5" y2="517.5" stroke="#ff0000" stroke-width="1"/>
<path d="M559.5,513.5 L565.95,517.5 L559.5,521.5 Z" fill="#fff" stroke="#ff0000" stroke-width="1.1" stroke-linejoin="miter"/>
<text x="569.5" y="523.75" font-size="14" fill="#0b0b3a" stroke="#0b0b3a" stroke-width="0.12" font-weight="normal" textLength="11.25" lengthAdjust="spacingAndGlyphs">40</text>
<line x1="582" y1="517.5" x2="628.75" y2="517.5" stroke="#ff0000" stroke-width="1"/>
<path d="M628.5,513.5 L634.7,517.5 L628.5,521.5 Z" fill="#fff" stroke="#ff0000" stroke-width="1.1" stroke-linejoin="miter"/>
<text x="637" y="523" font-size="14.3" fill="#0b0b3a" stroke="#0b0b3a" stroke-width="0.12" font-weight="normal" textLength="11.4" lengthAdjust="spacingAndGlyphs">60</text>
<line x1="650" y1="517.5" x2="696.25" y2="517.5" stroke="#ff0000" stroke-width="1"/>
<path d="M696.5,513.5 L702.7,517.5 L696.5,521.5 Z" fill="#fff" stroke="#ff0000" stroke-width="1.1" stroke-linejoin="miter"/>
<text x="706.75" y="523.75" font-size="14" fill="#0b0b3a" stroke="#0b0b3a" stroke-width="0.12" font-weight="normal" textLength="10.75" lengthAdjust="spacingAndGlyphs">80</text>
<text x="546.75" y="537.5" font-size="16" fill="#0a0a0a" stroke="#0a0a0a" stroke-width="0.25" font-weight="normal" textLength="83.25" lengthAdjust="spacingAndGlyphs">Reencarnação</text>
<rect x="427.5" y="546.25" width="73.5" height="16.25" rx="0.6" fill="#ffff99" stroke="#ff0000" stroke-width="4"/>
<text x="506.25" y="560" font-size="16" fill="#ff0000" stroke="#ff0000" stroke-width="0.25" font-weight="normal" textLength="33.75" lengthAdjust="spacingAndGlyphs">Dever</text>
<text x="704.25" y="555.75" font-size="26.5" fill="#0a0a0a" stroke="#0a0a0a" stroke-width="0.25" font-weight="normal" textLength="12.75" lengthAdjust="spacingAndGlyphs">D</text>
<text transform="translate(395.3,427.4) rotate(-90)" x="0" y="0" font-size="13.8" fill="#0a0a0a" stroke="#0a0a0a" stroke-width="0.15" font-weight="normal" textLength="46.2" lengthAdjust="spacingAndGlyphs">Carma</text>
<text x="603.75" y="566.25" font-size="17" fill="#0a0a0a" stroke="#0a0a0a" stroke-width="0.25" font-weight="normal" textLength="49.25" lengthAdjust="spacingAndGlyphs">Fig-03A</text>
</svg>
</body></html>
